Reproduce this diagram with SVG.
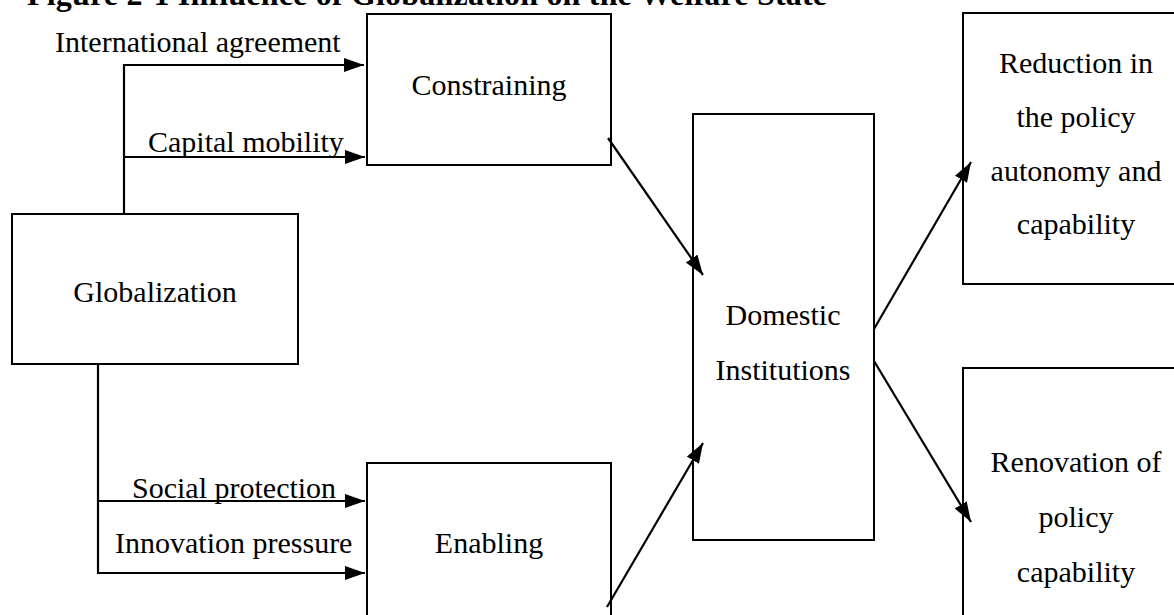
<svg xmlns="http://www.w3.org/2000/svg" width="1174" height="615" viewBox="0 0 1174 615">
<style>
.box{fill:#fff;stroke:#000;stroke-width:2}
.t{font-family:"Liberation Serif","Times New Roman",serif;font-size:30px;fill:#000}
.c{text-anchor:middle}
.ln{fill:none;stroke:#000;stroke-width:2.2}
</style>
<defs>
<marker id="ah" markerUnits="userSpaceOnUse" markerWidth="22" markerHeight="16" refX="20" refY="7" orient="auto">
<path d="M0,0 L20,7 L0,14 Z" fill="#000"/>
</marker>
</defs>
<rect width="1174" height="615" fill="#fff"/>
<text x="27" y="5" font-family="Liberation Serif,serif" font-weight="bold" font-size="32" textLength="800" fill="#000">Figure 2-1 Influence of Globalization on the Welfare State</text>
<g id="labels">
<text class="t" x="55" y="52">International agreement</text>
<text class="t" x="148" y="152">Capital mobility</text>
<text class="t" x="132" y="498">Social protection</text>
<text class="t" x="115" y="553">Innovation pressure</text>
</g>
<g id="constraining">
<rect class="box" x="367" y="14" width="244" height="151"/>
<text class="t c" x="489" y="95">Constraining</text>
</g>
<g id="globalization">
<rect class="box" x="12" y="214" width="286" height="150"/>
<text class="t c" x="155" y="302">Globalization</text>
</g>
<g id="enabling">
<rect class="box" x="367" y="463" width="244" height="170"/>
<text class="t c" x="489" y="553">Enabling</text>
</g>
<g id="domestic">
<rect class="box" x="693" y="114" width="181" height="426"/>
<text class="t c" x="783" y="325">Domestic</text>
<text class="t c" x="783" y="380">Institutions</text>
</g>
<g id="reduction">
<rect class="box" x="963" y="13" width="230" height="271"/>
<text class="t c" x="1076" y="73">Reduction in</text>
<text class="t c" x="1076" y="127">the policy</text>
<text class="t c" x="1076" y="181">autonomy and</text>
<text class="t c" x="1076" y="234">capability</text>
</g>
<g id="renovation">
<rect class="box" x="963" y="368" width="230" height="270"/>
<text class="t c" x="1076" y="472">Renovation of</text>
<text class="t c" x="1076" y="527">policy</text>
<text class="t c" x="1076" y="582">capability</text>
</g>
<g id="connectors">
<polyline class="ln" points="124,214 124,65 364,65" marker-end="url(#ah)"/>
<polyline class="ln" points="124,157 365,157" marker-end="url(#ah)"/>
<polyline class="ln" points="98,364 98,573 365,573" marker-end="url(#ah)"/>
<polyline class="ln" points="98,501 365,501" marker-end="url(#ah)"/>
<line class="ln" x1="608" y1="138" x2="703" y2="275" marker-end="url(#ah)"/>
<line class="ln" x1="607" y1="607" x2="703" y2="443" marker-end="url(#ah)"/>
<line class="ln" x1="874" y1="329" x2="971" y2="162" marker-end="url(#ah)"/>
<line class="ln" x1="874" y1="361" x2="971" y2="522" marker-end="url(#ah)"/>
</g>
</svg>
